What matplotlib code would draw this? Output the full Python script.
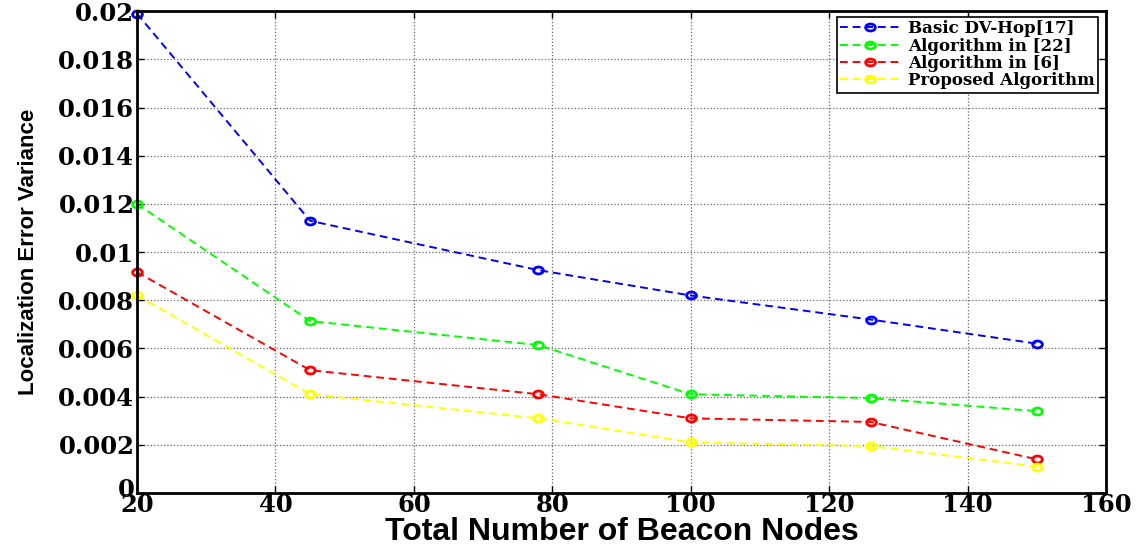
import matplotlib
matplotlib.use("Agg")
import matplotlib.pyplot as plt
from matplotlib.ticker import FixedLocator
from matplotlib.path import Path
from matplotlib.transforms import Affine2D, ScaledTranslation

x_nodes = [20, 45, 78, 100, 126, 150]
basic_dvhop = [0.0199, 0.0113, 0.00925, 0.0082, 0.0072, 0.0062]
alg_22 = [0.0120, 0.00714, 0.00614, 0.0041, 0.00394, 0.0034]
alg_6 = [0.00917, 0.0051, 0.0041, 0.0031, 0.00295, 0.0014]
proposed = [0.0082, 0.0041, 0.0031, 0.0021, 0.00195, 0.0011]

series_labels = ["Basic DV-Hop[17]", "Algorithm in [22]", "Algorithm in [6]", "Proposed Algorithm"]
series_colors = ["#0000ff", "#00ff00", "#ff0000", "#ffff00"]
x_ticks = [20, 40, 60, 80, 100, 120, 140, 160]
y_ticks = [0, 0.002, 0.004, 0.006, 0.008, 0.01, 0.012, 0.014, 0.016, 0.018, 0.02]
y_tick_labels = ["0", "0.002", "0.004", "0.006", "0.008", "0.01", "0.012", "0.014", "0.016", "0.018", "0.02"]

# slightly wide ellipse marker (the original image is horizontally stretched)
ell = Path.unit_circle().transformed(Affine2D().scale(1.4, 1.0))

fig = plt.figure(figsize=(11.44, 5.5), dpi=100)
ax = fig.add_axes([0.1198, 0.1036, 0.847, 0.876])

for vals, lab, col in zip([basic_dvhop, alg_22, alg_6, proposed], series_labels, series_colors):
    ax.plot(x_nodes, vals, linestyle=(0, (4, 2.5)), color=col, linewidth=1.4,
            marker=ell, markersize=7, markerfacecolor="none", markeredgecolor=col,
            markeredgewidth=2.0, label=lab, clip_on=False)

ax.set_xlim(20, 160)
ax.set_ylim(0, 0.02)
ax.xaxis.set_major_locator(FixedLocator(x_ticks))
ax.set_yticks(y_ticks)
ax.set_yticklabels(y_tick_labels)

serif = ["DejaVu Serif", "Liberation Serif"]
for lbl in ax.get_xticklabels() + ax.get_yticklabels():
    lbl.set_family(serif)
    lbl.set_fontweight("bold")
    lbl.set_fontsize(17.5)

ax.tick_params(direction="in", length=5, width=1.0, pad=2, top=True, right=True)
ax.tick_params(axis="x", pad=0)

# nudge the y "0" label up a little so it does not collide with the x "20"
zero_lbl = ax.get_yticklabels()[0]
zero_lbl.set_transform(zero_lbl.get_transform() + ScaledTranslation(0, 0.06, fig.dpi_scale_trans))

ax.grid(True, color="#666666", linestyle=":", linewidth=0.9)
for side in ["left", "bottom", "top", "right"]:
    ax.spines[side].set_linewidth(2.0)

sansf = ["Liberation Sans", "DejaVu Sans"]
ax.set_xlabel("Total Number of Beacon Nodes", family=sansf, fontweight="bold", fontsize=23, labelpad=0)
ax.set_ylabel("Localization Error Variance", family=sansf, fontweight="bold", fontsize=16, labelpad=14)

leg = ax.legend(loc="upper right", bbox_to_anchor=(0.9955, 0.995),
                prop={"family": serif, "weight": "bold", "size": 12},
                frameon=True, fancybox=False, edgecolor="black", framealpha=1,
                handlelength=3.6, borderpad=0.2, labelspacing=0.02, handletextpad=0.5,
                borderaxespad=0.2)
leg.get_frame().set_linewidth(1.2)

fig.savefig("out.png", dpi=100)
